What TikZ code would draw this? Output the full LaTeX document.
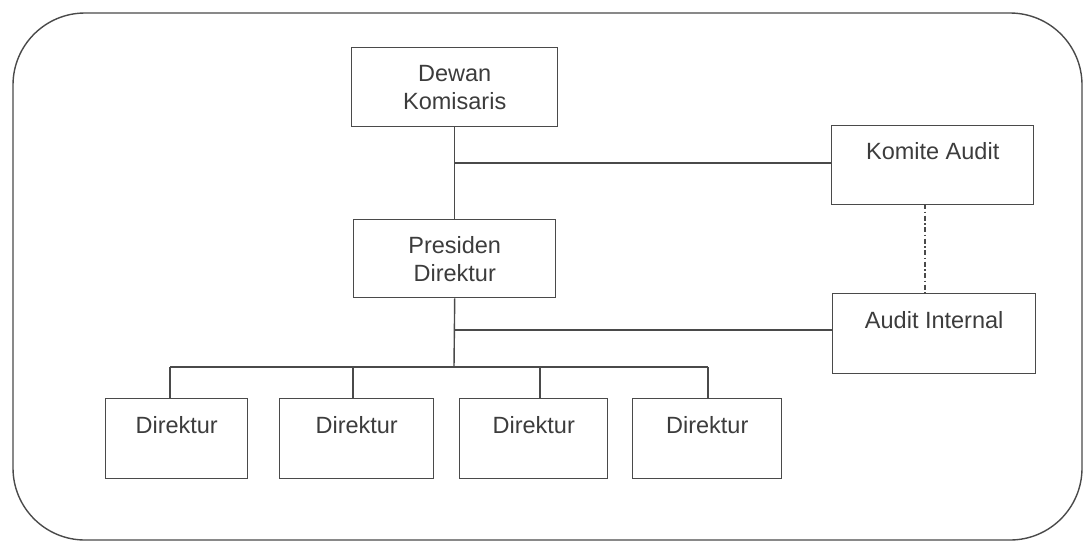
\documentclass[tikz,border=0pt]{standalone}
\usepackage{fontspec}
\setmainfont{Liberation Sans}
\definecolor{ink}{HTML}{3C3C3C}
\definecolor{linec}{HTML}{4A4A4A}
\begin{document}
\begin{tikzpicture}[x=1pt,y=-1pt,
  orgbox/.style={draw=linec, line width=1.4pt, anchor=north west, inner sep=0pt,
    align=center, text=ink, font=\fontsize{23.5}{28}\selectfont},
  conn/.style={draw=linec, line width=1.4pt},
  dotconn/.style={draw=linec, line width=1.2pt, dash pattern=on 5pt off 2.5pt on 1.5pt off 2.5pt}]
\useasboundingbox (0,0) rectangle (1083,542);
\draw[draw=linec, line width=1.4pt, rounded corners=72pt] (13,13) rectangle (1082,540);

\node[orgbox, minimum width=206pt, minimum height=79pt] (dk) at (351,47) {Dewan\\Komisaris};
\node[orgbox, minimum width=202pt, minimum height=78pt] (pd) at (353,219) {Presiden\\Direktur};
\node[orgbox, minimum width=202pt, minimum height=79pt] (ka) at (831,125) {Komite Audit\\\mbox{}};
\node[orgbox, minimum width=203pt, minimum height=80pt] (ai) at (832,293) {Audit Internal\\\mbox{}};
\node[orgbox, minimum width=142pt, minimum height=80pt] (d1) at (105,398) {Direktur\\\mbox{}};
\node[orgbox, minimum width=154pt, minimum height=80pt] (d2) at (279,398) {Direktur\\\mbox{}};
\node[orgbox, minimum width=148pt, minimum height=80pt] (d3) at (459,398) {Direktur\\\mbox{}};
\node[orgbox, minimum width=149pt, minimum height=80pt] (d4) at (632,398) {Direktur\\\mbox{}};

\coordinate (j1) at (454,163);
\coordinate (j2) at (454,330);
\coordinate (bus) at (454,367);
\coordinate (b1) at (170,367);
\coordinate (b2) at (353,367);
\coordinate (b3) at (540,367);
\coordinate (b4) at (708,367);
\coordinate (dtop) at (925,204);

\draw[conn] (dk.south) -- (pd.north);
\draw[conn] (j1) -- (j1 -| ka.west);
\draw[dotconn] (dtop) -- (dtop |- ai.north);
\draw[conn] (pd.south) -- (bus);
\draw[conn] (j2) -- (j2 -| ai.west);
\draw[conn] (b1) -- (b4);
\draw[conn] (b1) -- (b1 |- d1.north);
\draw[conn] (b2) -- (b2 |- d2.north);
\draw[conn] (b3) -- (b3 |- d3.north);
\draw[conn] (b4) -- (b4 |- d4.north);
\end{tikzpicture}
\end{document}
